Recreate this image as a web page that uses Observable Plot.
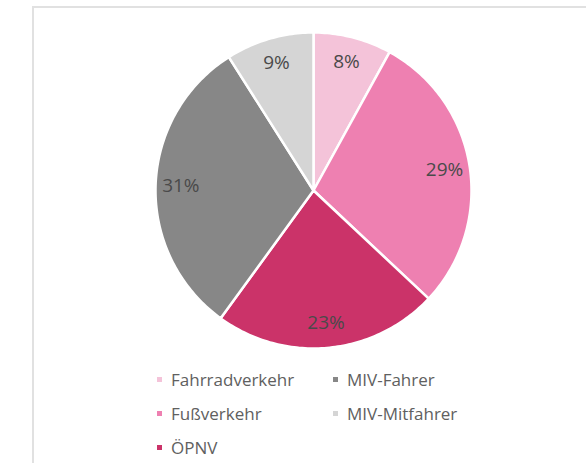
<!DOCTYPE html>
<html>
<head>
<meta charset="utf-8">
<script src="https://cdn.jsdelivr.net/npm/d3@7"></script>
<script src="https://cdn.jsdelivr.net/npm/@observablehq/plot@0.6"></script>
<style>
  html, body { margin: 0; padding: 0; background: #fff; }
  body { width: 586px; height: 463px; position: relative; overflow: hidden; font-family: "Open Sans", sans-serif; }
  #frame { position: absolute; left: 32px; top: 6px; right: -4px; bottom: -4px;
           border-top: 2px solid #e1e1e1; border-left: 2px solid #e1e1e1; }
  #chart { position: absolute; left: 0; top: 0; }
  #legend { position: absolute; left: 157px; top: 362px; display: grid;
            grid-template-rows: repeat(3, 34px); grid-template-columns: 176px auto;
            grid-auto-flow: column; font-size: 17px; color: #606060; }
  .item { display: flex; align-items: center; white-space: nowrap; }
  .sw { width: 5px; height: 5px; margin-right: 9px; flex: none; }
</style>
</head>
<body>
<div id="frame"></div>
<div id="chart"></div>
<div id="legend"></div>
<script>
// Data (clockwise from 12 o'clock)
const categories = ["Fahrradverkehr", "Fußverkehr", "ÖPNV", "MIV-Fahrer", "MIV-Mitfahrer"];
const shares = [8, 29, 23, 31, 9];
const colors = ["#f4c3d9", "#ee80b1", "#cb3369", "#878787", "#d5d5d5"];
const labels = ["8%", "29%", "23%", "31%", "9%"];

// Build slice polygons from the data (angles clockwise from top)
const total = d3.sum(shares);
const slices = [];
const labelRows = [];
let cum = 0;
categories.forEach((name, i) => {
  const a0 = cum / total * 2 * Math.PI;
  cum += shares[i];
  const a1 = cum / total * 2 * Math.PI;
  slices.push({name, x: 0, y: 0});
  const n = Math.max(2, Math.ceil((a1 - a0) / (Math.PI / 180)));
  for (let k = 0; k <= n; k++) {
    const a = a0 + (a1 - a0) * k / n;
    slices.push({name, x: Math.sin(a), y: Math.cos(a)});
  }
  const am = (a0 + a1) / 2;
  labelRows.push({name, label: labels[i], x: 0.84 * Math.sin(am), y: 0.84 * Math.cos(am)});
});

const plot = Plot.plot({
  width: 586,
  height: 362,
  margin: 0,
  style: {background: "none", overflow: "visible"},
  x: {domain: [-1, 1], range: [155, 471], axis: null},
  y: {domain: [-1, 1], range: [348, 32], axis: null},
  color: {domain: categories, range: colors},
  marks: [
    Plot.line(slices, {x: "x", y: "y", z: "name", fill: "name", stroke: "white",
      strokeWidth: 2.5, strokeLinejoin: "round", curve: "linear-closed"}),
    Plot.text(labelRows, {x: "x", y: "y", text: "label", fill: "#4a4a4a",
      fontSize: 19, fontFamily: "Open Sans, sans-serif"})
  ]
});
document.getElementById("chart").appendChild(plot);

// Legend
const legend = document.getElementById("legend");
categories.forEach((name, i) => {
  const item = document.createElement("div");
  item.className = "item";
  const sw = document.createElement("span");
  sw.className = "sw";
  sw.style.background = colors[i];
  const t = document.createElement("span");
  t.textContent = name;
  item.appendChild(sw);
  item.appendChild(t);
  legend.appendChild(item);
});
</script>
</body>
</html>
